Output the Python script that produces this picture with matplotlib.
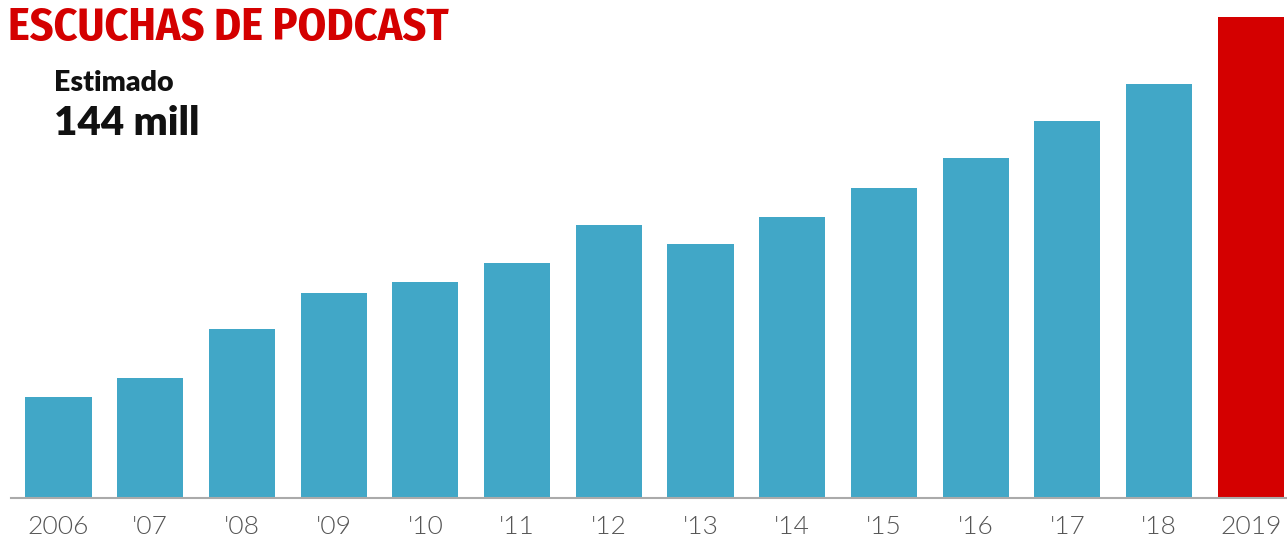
import matplotlib
matplotlib.use("Agg")
import matplotlib.pyplot as plt

years = ["2006", "'07", "'08", "'09", "'10", "'11", "'12", "'13", "'14", "'15", "'16", "'17", "'18", "2019"]
values = [30.3, 36.0, 50.7, 61.5, 64.8, 70.5, 81.6, 75.9, 84.0, 92.7, 101.7, 112.8, 123.9, 144.0]
colors = ["#41A7C7"] * 13 + ["#D40000"]

W, H = 1287, 541
fig = plt.figure(figsize=(W / 100, H / 100), dpi=100)
ax = fig.add_axes([11 / W, (H - 498) / H, (1287 - 11) / W, (498 - 17) / H])

x = list(range(len(years)))
ax.bar(x, values, width=0.72, color=colors, zorder=2)
ax.set_xlim(-0.518, 13.395)
ax.set_ylim(0, 144)
ax.set_xticks(x)
ax.set_xticklabels(years, fontsize=19, color="#555555", family="Lato", fontweight=300)
ax.tick_params(axis="x", length=0, pad=12)
ax.set_yticks([])
for s in ["top", "right", "left"]:
    ax.spines[s].set_visible(False)
ax.spines["bottom"].set_color("#AAAAAA")
ax.spines["bottom"].set_linewidth(1.5)
ax.spines["bottom"].set_zorder(3)

fig.text(8 / W, 1 - 40 / H, "ESCUCHAS DE PODCAST", color="#D40000", fontsize=33,
         fontweight="bold",
         family=["Fira Sans Condensed", "Roboto Condensed", "Saira Condensed", "Roboto"],
         ha="left", va="baseline")
fig.text(54 / W, 1 - 91 / H, "Estimado", color="#111111", fontsize=20.5,
         fontweight="heavy", family="Lato", ha="left", va="baseline")
fig.text(54 / W, 1 - 135 / H, "144 mill", color="#111111", fontsize=29,
         fontweight="heavy", family="Lato", ha="left", va="baseline")

fig.savefig("out.png", dpi=100)
